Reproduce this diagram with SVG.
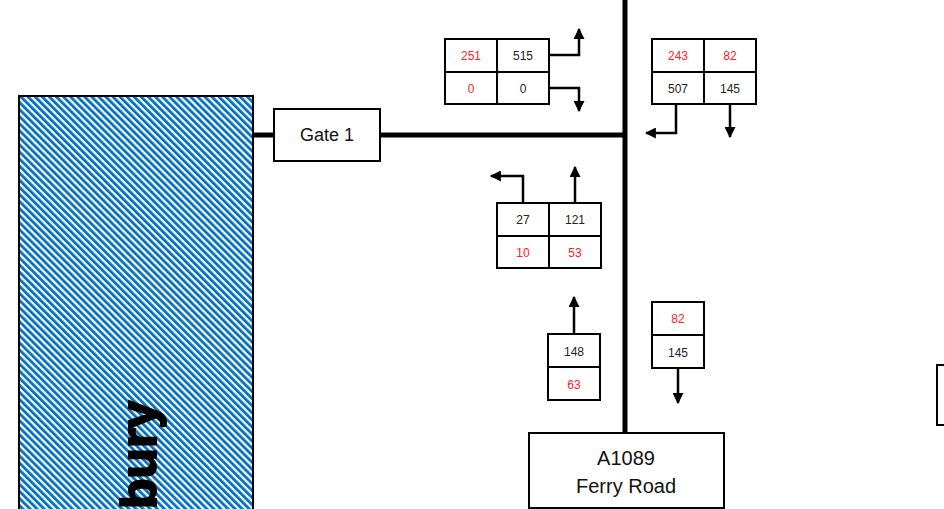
<svg xmlns="http://www.w3.org/2000/svg" width="944" height="509" viewBox="0 0 944 509">
<defs>
<pattern id="hatch" patternUnits="userSpaceOnUse" width="5" height="5" patternTransform="rotate(-45)">
<rect width="5" height="5" fill="#ffffff"/>
<rect width="2.8" height="5" fill="#0070C0"/>
</pattern>
<marker id="ah" viewBox="0 0 10 10" refX="9" refY="5" markerWidth="4.4" markerHeight="4.4" orient="auto" markerUnits="strokeWidth">
<path d="M0,0 L10,5 L0,10 Z" fill="#000"/>
</marker>
<style>
.box{fill:#fff;stroke:#000;stroke-width:2}
.cell{fill:#fff;stroke:#000;stroke-width:2}
.n{font-family:"Liberation Sans",Arial,sans-serif;font-size:12px;text-anchor:middle;fill:#222}
.r{fill:#ff2020}
.lbl{font-family:"Liberation Sans",Arial,sans-serif;text-anchor:middle;fill:#111}
.big{font-family:"Liberation Sans",Arial,sans-serif;font-weight:700;font-size:50px;fill:#000;stroke:#000;stroke-width:2}
.road{stroke:#000;stroke-width:5;fill:none}
.arr{stroke:#000;stroke-width:2.5;fill:none;marker-end:url(#ah)}
</style>
</defs>
<rect width="944" height="509" fill="#fff"/>

<g id="site">
<rect x="19" y="96" width="234" height="420" fill="url(#hatch)" stroke="#000" stroke-width="2"/>
<text class="big" transform="translate(156,509) rotate(-90)">bury</text>
</g>

<g id="connectors">
<line class="road" x1="253" y1="135" x2="275" y2="135"/>
<line class="road" x1="380" y1="135" x2="627" y2="135"/>
<line class="road" x1="625" y1="0" x2="625" y2="509"/>
<polyline class="arr" points="549,55 579,55 579,29"/>
<polyline class="arr" points="549,88 579,88 579,111"/>
<polyline class="arr" points="676,104 676,133 646,133"/>
<polyline class="arr" points="730,104 730,137"/>
<polyline class="arr" points="523,203 523,176 491,176"/>
<polyline class="arr" points="575,203 575,167"/>
<polyline class="arr" points="574,334 574,297"/>
<polyline class="arr" points="678,368 678,403"/>
</g>

<g id="gate1">
<rect class="box" x="274" y="109" width="106" height="52"/>
<text class="lbl" x="327" y="141" font-size="18">Gate 1</text>
</g>

<g id="ferry-road">
<rect class="box" x="529" y="433" width="195" height="75"/>
<text class="lbl" x="626" y="465" font-size="20">A1089</text>
<text class="lbl" x="626" y="493" font-size="20">Ferry Road</text>
</g>

<g id="right-box">
<rect class="box" x="937" y="365" width="20" height="60"/>
</g>

<g id="t1">
<rect class="cell" x="445" y="39" width="52" height="33"/>
<rect class="cell" x="497" y="39" width="52" height="33"/>
<rect class="cell" x="445" y="72" width="52" height="32"/>
<rect class="cell" x="497" y="72" width="52" height="32"/>
<text class="n r" x="471" y="60">251</text>
<text class="n" x="523" y="60">515</text>
<text class="n r" x="471" y="93">0</text>
<text class="n" x="523" y="93">0</text>
</g>

<g id="t2">
<rect class="cell" x="652" y="39" width="52" height="33"/>
<rect class="cell" x="704" y="39" width="52" height="33"/>
<rect class="cell" x="652" y="72" width="52" height="32"/>
<rect class="cell" x="704" y="72" width="52" height="32"/>
<text class="n r" x="678" y="60">243</text>
<text class="n r" x="730" y="60">82</text>
<text class="n" x="678" y="93">507</text>
<text class="n" x="730" y="93">145</text>
</g>

<g id="t3">
<rect class="cell" x="497" y="203" width="52" height="33"/>
<rect class="cell" x="549" y="203" width="52" height="33"/>
<rect class="cell" x="497" y="236" width="52" height="32"/>
<rect class="cell" x="549" y="236" width="52" height="32"/>
<text class="n" x="523" y="224">27</text>
<text class="n" x="575" y="224">121</text>
<text class="n r" x="523" y="257">10</text>
<text class="n r" x="575" y="257">53</text>
</g>

<g id="t4">
<rect class="cell" x="548" y="334" width="52" height="33"/>
<rect class="cell" x="548" y="367" width="52" height="33"/>
<text class="n" x="574" y="356">148</text>
<text class="n r" x="574" y="389">63</text>
</g>

<g id="t5">
<rect class="cell" x="652" y="302" width="52" height="33"/>
<rect class="cell" x="652" y="335" width="52" height="33"/>
<text class="n r" x="678" y="323">82</text>
<text class="n" x="678" y="357">145</text>
</g>
</svg>
